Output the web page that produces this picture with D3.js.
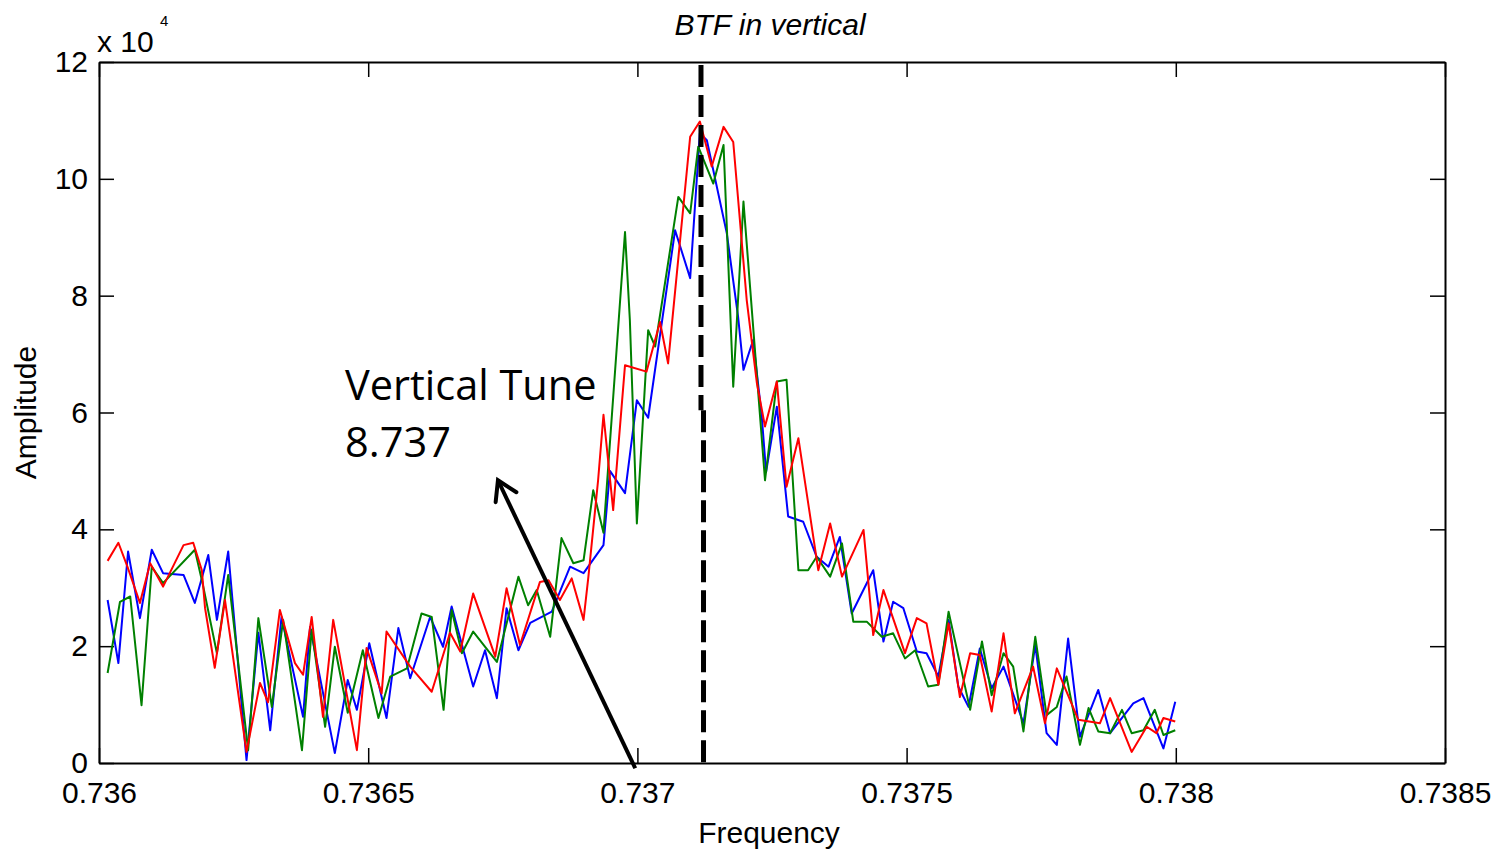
<!DOCTYPE html>
<html>
<head>
<meta charset="utf-8">
<script src="https://cdn.jsdelivr.net/npm/d3@7"></script>
<style>
  body { margin: 0; background: #fff; }
  svg { display: block; }
  .axis path.domain { stroke: #000; stroke-width: 2; }
  .axis line { stroke: #000; stroke-width: 1.5; }
  .axis text { fill: #000; }
</style>
</head>
<body>
<div id="btf-chart"></div>
<script>
// axis ticks
const xTicks = [0.736, 0.7365, 0.737, 0.7375, 0.738, 0.7385];
const xTickLabels = ["0.736", "0.7365", "0.737", "0.7375", "0.738", "0.7385"];
const yTicks = [0, 2, 4, 6, 8, 10, 12];

// [frequency, amplitude x 1e4]
const blueSeries = [
  [0.736016, 2.79], [0.736036, 1.71], [0.736054, 3.62], [0.736076, 2.48], [0.736098, 3.65],
  [0.736119, 3.25], [0.736157, 3.22], [0.736178, 2.74], [0.736203, 3.56], [0.736219, 2.45],
  [0.736240, 3.62], [0.736274, 0.05], [0.736296, 2.23], [0.736318, 0.56], [0.736339, 2.50],
  [0.736379, 0.79], [0.736392, 2.33], [0.736438, 0.17], [0.736462, 1.42], [0.736479, 0.91],
  [0.736502, 2.05], [0.736534, 0.77], [0.736556, 2.31], [0.736578, 1.45], [0.736615, 2.50],
  [0.736639, 1.99], [0.736655, 2.68], [0.736695, 1.31], [0.736717, 1.93], [0.736739, 1.11],
  [0.736757, 2.65], [0.736779, 1.93], [0.736801, 2.40], [0.736841, 2.59], [0.736875, 3.36],
  [0.736900, 3.25], [0.736937, 3.73], [0.736949, 5.00], [0.736977, 4.62], [0.736999, 6.21],
  [0.737020, 5.91], [0.737070, 9.12], [0.737098, 8.30], [0.737116, 10.78], [0.737129, 10.66],
  [0.737166, 9.07], [0.737187, 7.64], [0.737197, 6.73], [0.737215, 7.24], [0.737231, 5.93],
  [0.737239, 4.98], [0.737259, 6.10], [0.737280, 4.22], [0.737308, 4.13], [0.737333, 3.53],
  [0.737355, 3.36], [0.737376, 3.87], [0.737398, 2.56], [0.737438, 3.30], [0.737457, 2.08],
  [0.737475, 2.76], [0.737494, 2.65], [0.737519, 1.91], [0.737537, 1.88], [0.737559, 1.48],
  [0.737578, 2.45], [0.737596, 1.31], [0.737615, 0.96], [0.737636, 1.96], [0.737658, 1.28],
  [0.737680, 1.65], [0.737717, 0.68], [0.737739, 2.02], [0.737760, 0.51], [0.737779, 0.31],
  [0.737800, 2.13], [0.737822, 0.45], [0.737856, 1.25], [0.737878, 0.51], [0.737921, 1.02],
  [0.737940, 1.11], [0.737977, 0.25], [0.737999, 1.05]
];

const greenSeries = [
  [0.736016, 1.54], [0.736039, 2.76], [0.736058, 2.85], [0.736079, 0.99], [0.736098, 3.36],
  [0.736119, 3.08], [0.736178, 3.65], [0.736193, 3.05], [0.736219, 1.88], [0.736240, 3.22],
  [0.736277, 0.22], [0.736296, 2.48], [0.736321, 0.96], [0.736342, 2.45], [0.736377, 0.22],
  [0.736395, 2.28], [0.736420, 0.62], [0.736438, 1.99], [0.736462, 0.86], [0.736490, 1.93],
  [0.736519, 0.77], [0.736541, 1.48], [0.736572, 1.62], [0.736599, 2.56], [0.736618, 2.50],
  [0.736640, 0.91], [0.736655, 2.62], [0.736674, 1.88], [0.736695, 2.25], [0.736739, 1.73],
  [0.736779, 3.19], [0.736797, 2.70], [0.736813, 2.96], [0.736838, 2.16], [0.736859, 3.85],
  [0.736881, 3.42], [0.736900, 3.47], [0.736918, 4.67], [0.736937, 3.94], [0.736977, 9.09],
  [0.736986, 7.58], [0.736999, 4.10], [0.737020, 7.41], [0.737033, 7.13], [0.737076, 9.69],
  [0.737098, 9.41], [0.737113, 10.55], [0.737141, 9.92], [0.737160, 10.58], [0.737178, 6.44],
  [0.737197, 9.61], [0.737237, 4.84], [0.737259, 6.53], [0.737277, 6.56], [0.737299, 3.30],
  [0.737317, 3.30], [0.737333, 3.53], [0.737358, 3.19], [0.737380, 3.76], [0.737401, 2.42],
  [0.737426, 2.42], [0.737454, 2.16], [0.737475, 2.22], [0.737497, 1.79], [0.737516, 1.93],
  [0.737540, 1.31], [0.737559, 1.34], [0.737578, 2.59], [0.737618, 0.91], [0.737640, 2.08],
  [0.737658, 1.16], [0.737680, 1.88], [0.737698, 1.65], [0.737717, 0.54], [0.737739, 2.16],
  [0.737760, 0.82], [0.737779, 0.96], [0.737797, 1.48], [0.737822, 0.31], [0.737838, 0.94],
  [0.737856, 0.54], [0.737878, 0.51], [0.737900, 0.91], [0.737918, 0.51], [0.737940, 0.56],
  [0.737961, 0.91], [0.737977, 0.48], [0.737999, 0.56]
];

const redSeries = [
  [0.736016, 3.46], [0.736036, 3.77], [0.736054, 3.33], [0.736076, 2.74], [0.736095, 3.42],
  [0.736119, 3.02], [0.736157, 3.73], [0.736175, 3.77], [0.736191, 3.30], [0.736197, 2.65],
  [0.736215, 1.63], [0.736234, 2.79], [0.736274, 0.19], [0.736299, 1.37], [0.736314, 1.04],
  [0.736336, 2.62], [0.736364, 1.71], [0.736379, 1.51], [0.736395, 2.50], [0.736416, 0.79],
  [0.736435, 2.45], [0.736479, 0.22], [0.736497, 1.97], [0.736525, 1.19], [0.736534, 2.25],
  [0.736578, 1.65], [0.736618, 1.22], [0.736652, 2.23], [0.736671, 1.91], [0.736695, 2.90],
  [0.736736, 1.82], [0.736757, 2.99], [0.736782, 2.02], [0.736819, 3.10], [0.736835, 3.13],
  [0.736856, 2.79], [0.736878, 3.16], [0.736900, 2.45], [0.736909, 3.19], [0.736927, 4.84],
  [0.736937, 5.96], [0.736955, 4.33], [0.736977, 6.81], [0.737017, 6.70], [0.737042, 7.55],
  [0.737057, 6.84], [0.737098, 10.72], [0.737116, 10.98], [0.737138, 10.21], [0.737160, 10.89],
  [0.737178, 10.63], [0.737203, 7.93], [0.737222, 6.50], [0.737237, 5.76], [0.737259, 6.53],
  [0.737277, 4.73], [0.737299, 5.56], [0.737336, 3.30], [0.737358, 4.10], [0.737380, 3.19],
  [0.737420, 3.99], [0.737438, 2.19], [0.737457, 2.96], [0.737497, 1.88], [0.737519, 2.48],
  [0.737537, 2.39], [0.737559, 1.34], [0.737578, 2.39], [0.737599, 1.13], [0.737618, 1.88],
  [0.737636, 1.85], [0.737658, 0.88], [0.737680, 2.22], [0.737701, 0.85], [0.737735, 1.65],
  [0.737757, 0.68], [0.737779, 1.62], [0.737819, 0.74], [0.737859, 0.68], [0.737878, 1.11],
  [0.737918, 0.19], [0.737946, 0.62], [0.737964, 0.51], [0.737977, 0.77], [0.737999, 0.71]
];

const seriesColors = ["#0000ff", "#008000", "#ff0000"];

// dashed tune marker: [frequency, from amplitude, to amplitude]
const tuneMarker = [[0.7371181, 11.95, 6.04], [0.7371228, 6.04, 0]];

// annotation
const tuneLabel = ["Vertical Tune", "8.737"];
const tuneLabelAt = [0.736457, 6.21];
const arrowFrom = [0.736996, -0.09];
const arrowTo = [0.736741, 4.84];

(function btf_vertical() {

  let width = 1496,
    height = 852,
    margin = ({ top: 62, right: 51, bottom: 89, left: 99 });

  const svg = d3.select("#btf-chart")
    .append("svg")
    .attr("width", width)
    .attr("height", height)
    .attr("viewBox", [0, 0, width, height])
    .style("font-family", "'Liberation Sans', Arial, sans-serif");

  let x = d3.scaleLinear()
    .domain([0.736, 0.7385])
    .range([margin.left, width - margin.right]);

  let y = d3.scaleLinear()
    .domain([0, 12])
    .range([height - margin.bottom, margin.top]);

  // matlab style box, ticks inward on all four sides
  svg.append("g")
    .attr("class", "axis")
    .attr("transform", `translate(0,${height - margin.bottom})`)
    .call(d3.axisBottom(x).tickValues(xTicks).tickFormat((d, i) => xTickLabels[i])
      .tickSizeInner(-15).tickSizeOuter(0).tickPadding(19))
    .attr("font-size", 30)
    .attr("font-family", null);

  svg.append("g")
    .attr("class", "axis")
    .attr("transform", `translate(0,${margin.top})`)
    .call(d3.axisTop(x).tickValues(xTicks).tickFormat("").tickSizeInner(-15).tickSizeOuter(0));

  svg.append("g")
    .attr("class", "axis")
    .attr("transform", `translate(${margin.left},0)`)
    .call(d3.axisLeft(y).tickValues(yTicks).tickSizeInner(-15).tickSizeOuter(0).tickPadding(11))
    .attr("font-size", 30)
    .attr("font-family", null);

  svg.append("g")
    .attr("class", "axis")
    .attr("transform", `translate(${width - margin.right},0)`)
    .call(d3.axisRight(y).tickValues(yTicks).tickFormat("").tickSizeInner(-15).tickSizeOuter(0));

  // exponent above the y axis
  svg.append("text")
    .attr("x", margin.left - 2)
    .attr("y", 52)
    .attr("font-size", 30)
    .text("x 10");
  svg.append("text")
    .attr("x", 160)
    .attr("y", 26)
    .attr("font-size", 15)
    .text("4");

  let line = d3.line()
    .x(d => x(d[0]))
    .y(d => y(d[1]));

  [blueSeries, greenSeries, redSeries].forEach((s, i) => {
    svg.append("path")
      .datum(s)
      .attr("fill", "none")
      .attr("stroke", seriesColors[i])
      .attr("stroke-width", 2)
      .attr("stroke-linejoin", "round")
      .attr("d", line);
  });

  for (let m of tuneMarker) {
    svg.append("line")
      .attr("x1", x(m[0]))
      .attr("x2", x(m[0]))
      .attr("y1", y(m[1]))
      .attr("y2", y(m[2]))
      .attr("stroke", "#000")
      .attr("stroke-width", 5)
      .attr("stroke-dasharray", "22 8");
  }

  // arrow pointing at the label
  let ax0 = x(arrowFrom[0]), ay0 = y(arrowFrom[1]),
    ax1 = x(arrowTo[0]), ay1 = y(arrowTo[1]);
  let ang = Math.atan2(ay0 - ay1, ax0 - ax1),
    headLen = 22,
    spread = 0.55;

  svg.append("line")
    .attr("x1", ax0).attr("y1", ay0)
    .attr("x2", ax1).attr("y2", ay1)
    .attr("stroke", "#000")
    .attr("stroke-width", 4);

  svg.append("path")
    .attr("d", d3.line()([
      [ax1 + headLen * Math.cos(ang - spread), ay1 + headLen * Math.sin(ang - spread)],
      [ax1, ay1],
      [ax1 + headLen * Math.cos(ang + spread), ay1 + headLen * Math.sin(ang + spread)]
    ]))
    .attr("fill", "none")
    .attr("stroke", "#000")
    .attr("stroke-width", 4)
    .attr("stroke-linecap", "round");

  let label = svg.append("text")
    .attr("x", x(tuneLabelAt[0]))
    .attr("y", y(tuneLabelAt[1]))
    .attr("font-family", "'Open Sans', 'Noto Sans', sans-serif")
    .attr("font-size", 41.5)
    .attr("fill", "#000");
  tuneLabel.forEach((t, i) => {
    label.append("tspan")
      .attr("x", x(tuneLabelAt[0]))
      .attr("dy", i === 0 ? 0 : 57)
      .text(t);
  });

  // titles
  svg.append("text")
    .attr("x", (margin.left + width - margin.right) / 2 - 2)
    .attr("y", 35)
    .attr("text-anchor", "middle")
    .attr("font-size", 30)
    .attr("font-style", "italic")
    .text("BTF in vertical");

  svg.append("text")
    .attr("x", (margin.left + width - margin.right) / 2 - 3)
    .attr("y", 843)
    .attr("text-anchor", "middle")
    .attr("font-size", 30)
    .text("Frequency");

  svg.append("text")
    .attr("transform", `translate(36,${(margin.top + height - margin.bottom) / 2}) rotate(-90)`)
    .attr("text-anchor", "middle")
    .attr("font-size", 30)
    .text("Amplitude");

})();
</script>
</body>
</html>
